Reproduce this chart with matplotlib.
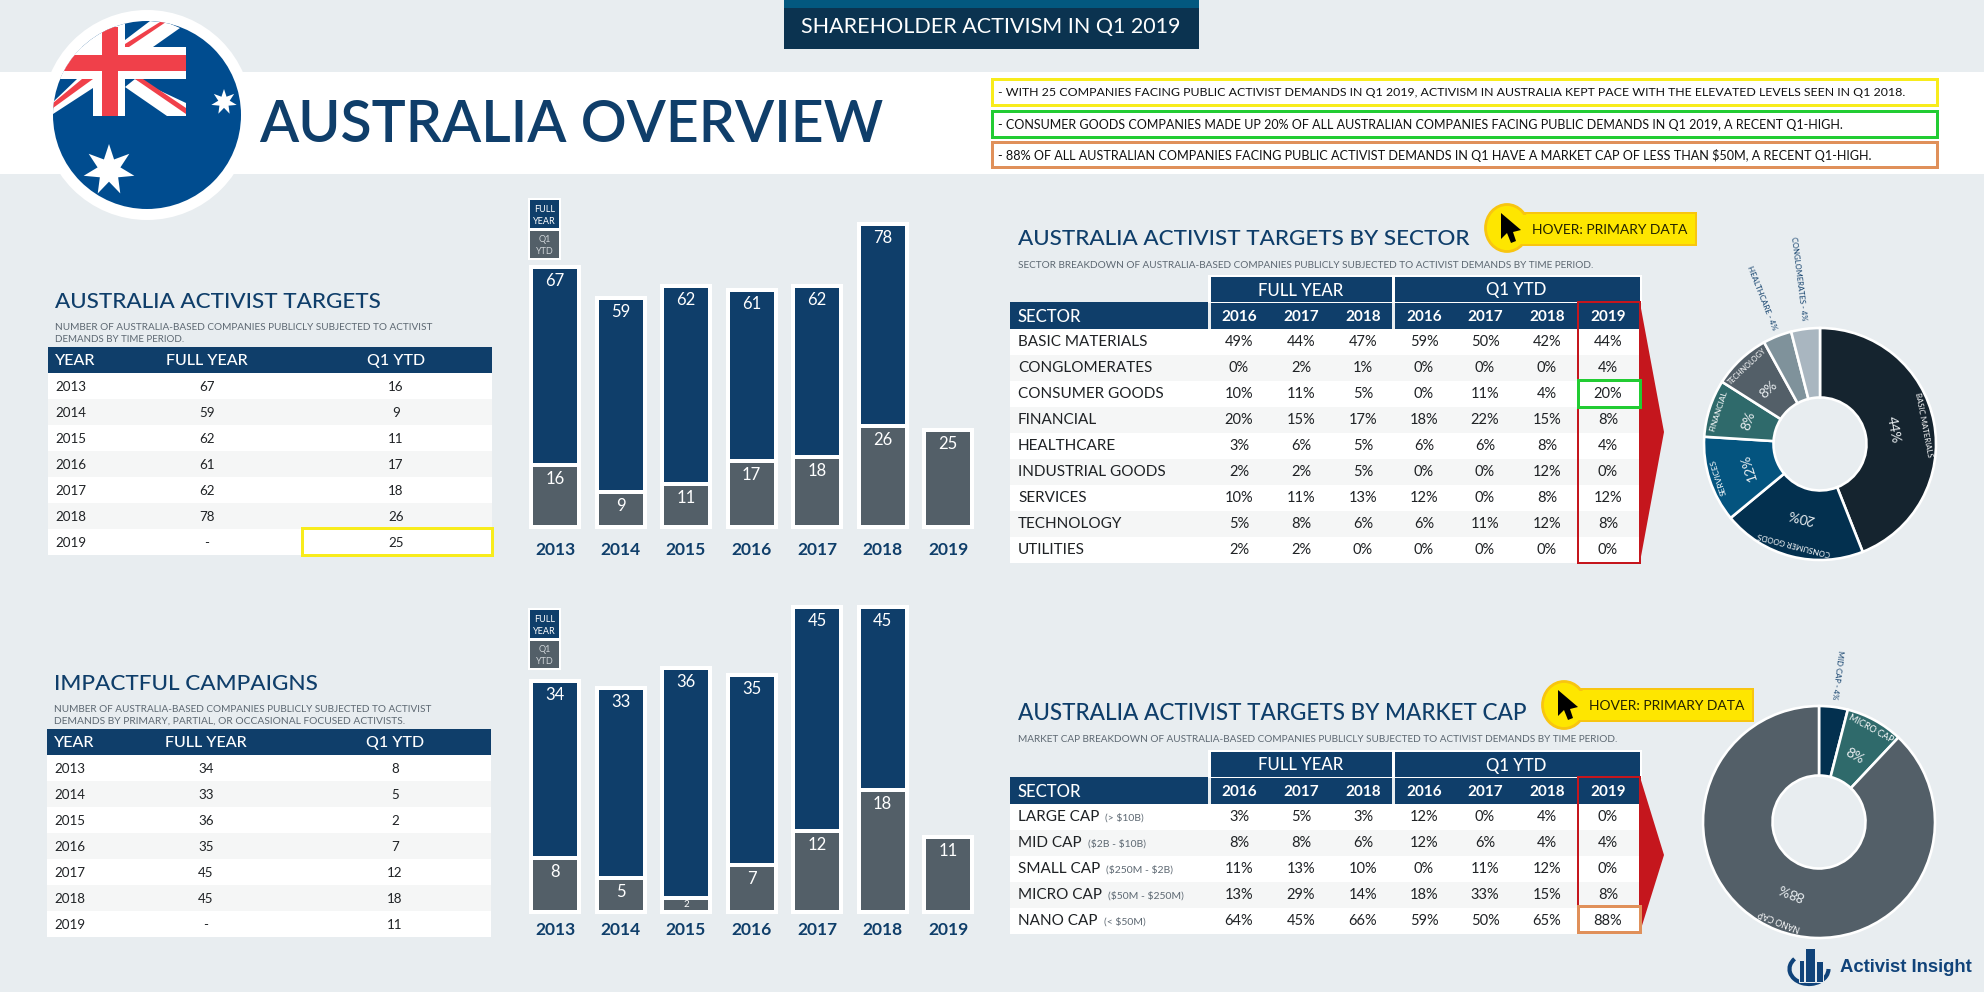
import matplotlib
matplotlib.use('Agg')
import matplotlib.pyplot as plt
import numpy as np
from matplotlib.patches import Rectangle, Ellipse, Polygon, Circle, Arc

plt.rcParams['font.family'] = ['Lato', 'DejaVu Sans']

###
### Data
###
years         = ['2013', '2014', '2015', '2016', '2017', '2018', '2019']
targets_full  = [67, 59, 62, 61, 62, 78, None]
targets_q1    = [16, 9, 11, 17, 18, 26, 25]
campaign_full = [34, 33, 36, 35, 45, 45, None]
campaign_q1   = [8, 5, 2, 7, 12, 18, 11]

table_years = ['2016', '2017', '2018', '2016', '2017', '2018', '2019']

sectors = ['BASIC MATERIALS', 'CONGLOMERATES', 'CONSUMER GOODS', 'FINANCIAL', 'HEALTHCARE',
           'INDUSTRIAL GOODS', 'SERVICES', 'TECHNOLOGY', 'UTILITIES']
sector_pct = [[49, 44, 47, 59, 50, 42, 44],
              [0, 2, 1, 0, 0, 0, 4],
              [10, 11, 5, 0, 11, 4, 20],
              [20, 15, 17, 18, 22, 15, 8],
              [3, 6, 5, 6, 6, 8, 4],
              [2, 2, 5, 0, 0, 12, 0],
              [10, 11, 13, 12, 0, 8, 12],
              [5, 8, 6, 6, 11, 12, 8],
              [2, 2, 0, 0, 0, 0, 0]]

caps = ['LARGE CAP', 'MID CAP', 'SMALL CAP', 'MICRO CAP', 'NANO CAP']
cap_ranges = ['(> $10B)', '($2B - $10B)', '($250M - $2B)', '($50M - $250M)', '(< $50M)']
cap_pct = [[3, 5, 3, 12, 0, 4, 0],
           [8, 8, 6, 12, 6, 4, 4],
           [11, 13, 10, 0, 11, 12, 0],
           [13, 29, 14, 18, 33, 15, 8],
           [64, 45, 66, 59, 50, 65, 88]]

donut1_names  = ['BASIC MATERIALS', 'CONSUMER GOODS', 'SERVICES', 'FINANCIAL', 'TECHNOLOGY', 'HEALTHCARE', 'CONGLOMERATES']
donut1_values = [44, 20, 12, 8, 8, 4, 4]
donut2_names  = ['MID CAP', 'MICRO CAP', 'NANO CAP']
donut2_values = [4, 8, 88]

notes = ['- WITH 25 COMPANIES FACING PUBLIC ACTIVIST DEMANDS IN Q1 2019, ACTIVISM IN AUSTRALIA KEPT PACE WITH THE ELEVATED LEVELS SEEN IN Q1 2018.',
         '- CONSUMER GOODS COMPANIES MADE UP 20% OF ALL AUSTRALIAN COMPANIES FACING PUBLIC DEMANDS IN Q1 2019, A RECENT Q1-HIGH.',
         '- 88% OF ALL AUSTRALIAN COMPANIES FACING PUBLIC ACTIVIST DEMANDS IN Q1 HAVE A MARKET CAP OF LESS THAN $50M, A RECENT Q1-HIGH.']

###
### Colours
###
W, H   = 1984, 992
BG     = '#e8edf0'
NAVY   = '#0f3e6a'
SLATE  = '#535f68'
STRIPE = '#f5f6f6'
INK    = '#1f2225'
SUB    = '#5d6872'
YELLOW = '#f8ec1c'
GREEN  = '#22cc33'
ORANGE = '#e0905a'
RED    = '#c5161d'
FLAGR  = '#f0404a'
FLAGB  = '#004c8f'
LOGO   = '#10437a'

fig = plt.figure(figsize=(W/100, H/100), dpi=100, facecolor=BG)
bg = fig.add_axes([0, 0, 1, 1])
bg.set_xlim(0, W)
bg.set_ylim(H, 0)
bg.axis('off')
renderer = fig.canvas.get_renderer()


def rect(x0, y0, x1, y1, fc='none', ec='none', lw=0, z=1):
    p = Rectangle((x0, y0), x1-x0, y1-y0, facecolor=fc, edgecolor=ec, linewidth=lw*0.72, zorder=z)
    bg.add_patch(p)
    return p


def put(x, y, s, size=11, color=INK, ha='left', weight='normal', w=None, rot=0, ax=None, z=5, family=None):
    if ax is None:
        y = y+1
    t = (ax or bg).text(x, y, s, fontsize=size, color=color, ha=ha, va='center', fontweight=weight,
                        rotation=rot, rotation_mode='anchor', parse_math=False, zorder=z)
    if family:
        t.set_family(family)
    if w:
        t.set_rotation(0)
        t.set_fontsize(size*w/t.get_window_extent(renderer).width)
        t.set_rotation(rot)
    return t


def px_axes(x0, y0, x1, y1):
    ax = fig.add_axes([x0/W, 1-y1/H, (x1-x0)/W, (y1-y0)/H])
    ax.patch.set_alpha(0)
    return ax


###
### Header
###
rect(0, 72, W, 174, fc='white')
rect(784, 0, 1199, 49, fc='#0b3350')
rect(784, 0, 1199, 8, fc='#03587f')
put(991, 26, 'SHAREHOLDER ACTIVISM IN Q1 2019', color='white', ha='center', w=379, size=15)
put(259, 125, 'AUSTRALIA OVERVIEW', size=40, color=NAVY, w=624, weight='semibold')

# flag
bg.add_patch(Circle((147, 115), 105, fc='white', ec='none', zorder=2))
disc = Circle((147, 115), 94, fc=FLAGB, ec='none', zorder=3)
bg.add_patch(disc)
flag = [rect(53, 21, 94, 79, fc='white', z=3)]
for pts, col in [([(93, 79), (93, 88), (53, 114), (53, 102), (77, 79)], 'white'),
                 ([(82, 79), (93, 79), (53, 108), (53, 103)], FLAGR),
                 ([(125, 87), (135, 79), (186, 103), (186, 116), (167, 116)], 'white'),
                 ([(135, 79), (143, 79), (186, 108), (186, 114)], FLAGR),
                 ([(125, 40), (150, 21), (166, 22), (180, 28), (153, 47), (125, 47)], 'white'),
                 ([(125, 44), (160, 22), (166, 22), (129, 47), (125, 47)], FLAGR)]:
    p = Polygon(pts, fc=col, ec='none', zorder=3)
    bg.add_patch(p)
    flag.append(p)
flag.append(rect(53, 47, 186, 79, fc='white', z=3))
flag.append(rect(93, 21, 125, 116, fc='white', z=3))
flag.append(rect(64, 55, 186, 71, fc=FLAGR, z=3))
flag.append(rect(102, 27, 118, 116, fc=FLAGR, z=3))
for item in flag:
    item.set_clip_path(disc)


def star(cx, cy, r):
    ang = np.arange(14)*np.pi/7
    rad = np.where(np.arange(14) % 2 == 0, r, r*0.45)
    bg.add_patch(Polygon(np.c_[cx+rad*np.sin(ang), cy-rad*np.cos(ang)], fc='white', ec='none', zorder=4))


star(109, 170, 26)
star(224, 102, 13)

# call-outs
for note, col, y0, y1, wt in zip(notes, [YELLOW, GREEN, ORANGE], [79, 111, 142], [105, 137, 167], [908, 849, 874]):
    rect(992, y0, 1937, y1, ec=col, lw=3, z=2)
    put(998, (y0+y1)/2, note, size=9, w=wt, color='#111111')


###
### Bars
###
def bars(full, q1, base, scale, ymax, legend_y, tick_pad):
    ax = px_axes(522.25, base-ymax*scale, 980.75, base)
    x = np.arange(len(years))
    fy = [np.nan if v is None else v for v in full]
    ax.bar(x, fy, width=48/65.5, color=NAVY, edgecolor='white', linewidth=4*0.72, clip_on=False, zorder=2)
    ax.bar(x, q1, width=48/65.5, color=SLATE, edgecolor='white', linewidth=4*0.72, clip_on=False, zorder=3)
    for i in x:
        if full[i] is not None:
            ax.annotate(str(full[i]), (i, full[i]), xytext=(0, -14), textcoords='offset pixels', ha='center',
                        va='center', color='white', fontsize=12, zorder=4)
        small = q1[i]*scale < 25
        ax.annotate(str(q1[i]), (i, q1[i]), xytext=(0, -6 if small else -14), textcoords='offset pixels', ha='center',
                    va='center', color='white', fontsize=7 if small else 12, zorder=4)
    ax.set_xlim(-0.5, 6.5)
    ax.set_ylim(0, ymax)
    ax.set_xticks(x)
    ax.set_xticklabels(years, fontsize=12.5, color=NAVY, fontweight='bold')
    ax.set_yticks([])
    ax.tick_params(axis='x', length=0, pad=tick_pad)
    for s in ax.spines.values():
        s.set_visible(False)
    # legend chips
    rect(529, legend_y-1, 560, legend_y+29, fc=NAVY, ec='white', lw=2, z=2)
    rect(529, legend_y+30, 560, legend_y+59, fc=SLATE, ec='white', lw=2, z=2)
    for txt, dy, col in [('FULL', 8, 'white'), ('YEAR', 20, 'white'), ('Q1', 38, '#cfd4d8'), ('YTD', 50, '#cfd4d8')]:
        put(544.5, legend_y+dy, txt, size=6.5, color=col, ha='center')


bars(targets_full, targets_q1, 527, 3.88, 80, 200, 11)
bars(campaign_full, campaign_q1, 912, 6.78, 46, 610, 7)


###
### Left tables
###
def year_table(title, sub, full, q1, x0, ty, tw, yh, sub_w):
    put(x0+7, ty, title, size=15, color=NAVY, w=tw, weight='medium')
    put(x0+7, ty+25, sub[0], size=6.5, color=SUB, w=sub_w[0])
    put(x0+7, ty+37, sub[1], size=6.5, color=SUB, w=sub_w[1])
    rect(x0, yh, x0+444, yh+26, fc=NAVY)
    put(x0+7, yh+13, 'YEAR', size=11.5, color='white', weight='medium')
    put(x0+159, yh+13, 'FULL YEAR', size=11.5, color='white', ha='center', weight='medium')
    put(x0+348, yh+13, 'Q1 YTD', size=11.5, color='white', ha='center', weight='medium')
    for i, yr in enumerate(years):
        y0 = yh+26+26*i
        rect(x0, y0, x0+444, y0+26, fc=STRIPE if i % 2 else 'white')
        put(x0+7, y0+13, yr, size=9.6)
        put(x0+159, y0+13, '-' if full[i] is None else str(full[i]), size=9.6, ha='center')
        put(x0+348, y0+13, str(q1[i]), size=9.6, ha='center')


year_table('AUSTRALIA ACTIVIST TARGETS',
           ['NUMBER OF AUSTRALIA-BASED COMPANIES PUBLICLY SUBJECTED TO ACTIVIST', 'DEMANDS BY TIME PERIOD.'],
           targets_full, targets_q1, 48, 301, 327, 347, (381, 130))
rect(302, 528, 492, 555, ec=YELLOW, lw=3, z=4)
year_table('IMPACTFUL CAMPAIGNS',
           ['NUMBER OF AUSTRALIA-BASED COMPANIES PUBLICLY SUBJECTED TO ACTIVIST',
            'DEMANDS BY PRIMARY, PARTIAL, OR OCCASIONAL FOCUSED ACTIVISTS.'],
           campaign_full, campaign_q1, 47, 683, 265, 729, (381, 350))

###
### Right tables
###
col_x = [1239, 1301, 1363, 1424, 1485, 1547, 1608]


def pct_table(names, rows, ytop):
    rect(1208, ytop-2, 1642, ytop+26, fc='white')
    rect(1211, ytop, 1392, ytop+25, fc=NAVY)
    rect(1395, ytop, 1640, ytop+25, fc=NAVY)
    put(1301, ytop+12.5, 'FULL YEAR', size=12, color='white', ha='center', weight='medium')
    put(1516, ytop+12.5, 'Q1 YTD', size=12, color='white', ha='center', weight='medium')
    hy = ytop+26
    rect(1010, ytop+25, 1208, hy+26, fc=NAVY)
    rect(1211, hy, 1392, hy+26, fc=NAVY)
    rect(1395, hy, 1640, hy+26, fc=NAVY)
    put(1018, hy+13, 'SECTOR', size=12, color='white', weight='medium')
    for cx, yr in zip(col_x, table_years):
        put(cx, hy+13, yr, size=11, color='white', ha='center', weight='bold')
    for i, (name, row) in enumerate(zip(names, rows)):
        y0 = hy+26+26*i
        rect(1010, y0, 1640, y0+26, fc=STRIPE if i % 2 else 'white')
        put(1018, y0+12, name, size=11)
        for cx, v in zip(col_x, row):
            put(cx, y0+12, '{}%'.format(v), size=10.5, ha='center')
    return hy, hy+26+26*len(rows)


def badge(cx, cy, xr, top, bot):
    rect(cx, top, xr, bot, fc='#fee600', ec='#f8c510', lw=2, z=2)
    bg.add_patch(Ellipse((cx, cy), 43, 47, fc='#fee600', ec='#f8c510', linewidth=2, zorder=2))
    rect(cx, top+1.5, cx+24, bot-1.5, fc='#fee600', z=2)
    arrow = np.array([(0, 0), (0, 26), (6, 20), (10, 30), (15, 28), (12, 19), (20, 17)])
    bg.add_patch(Polygon(arrow+[cx-6, cy-15], fc='black', ec='none', zorder=3))
    put(cx+25, (top+bot)/2, 'HOVER: PRIMARY DATA', size=9, color='#222200', w=156)


# sector table
put(1018, 238, 'AUSTRALIA ACTIVIST TARGETS BY SECTOR', size=15, color=NAVY, w=452, weight='medium')
put(1018, 265, 'SECTOR BREAKDOWN OF AUSTRALIA-BASED COMPANIES PUBLICLY SUBJECTED TO ACTIVIST DEMANDS BY TIME PERIOD.',
    size=6.5, color=SUB, w=579)
hy1, end1 = pct_table(sectors, sector_pct, 277)
bg.add_patch(Polygon([(1640, 303), (1664, 432), (1640, 562)], fc=RED, ec='none', zorder=2))
rect(1578, hy1-1, 1640, end1, ec=RED, lw=2, z=4)
rect(1578, 380, 1640, 407, fc='none', ec=GREEN, lw=3, z=4)
badge(1507, 228, 1696, 213, 245)

# market cap table
put(1018, 712, 'AUSTRALIA ACTIVIST TARGETS BY MARKET CAP', size=15, color=NAVY, w=511, weight='medium')
put(1018, 739, 'MARKET CAP BREAKDOWN OF AUSTRALIA-BASED COMPANIES PUBLICLY SUBJECTED TO ACTIVIST DEMANDS BY TIME PERIOD.',
    size=6.5, color=SUB, w=603)
hy2, end2 = pct_table(caps, cap_pct, 752)
for i, (name, rng) in enumerate(zip(caps, cap_ranges)):
    y0 = hy2+26+26*i
    bbox = [t for t in bg.texts if t.get_text() == name][0].get_window_extent(renderer)
    put(bbox.x1+6, y0+13, rng, size=7.5, color=SUB)
bg.add_patch(Polygon([(1640, 777), (1664, 855), (1640, 932)], fc=RED, ec='none', zorder=2))
rect(1578, hy2-1, 1640, 906, ec=RED, lw=2, z=4)
rect(1578, 906, 1640, 932, ec=ORANGE, lw=3, z=4)
badge(1564, 705, 1753, 689, 721)


###
### Donuts
###
name_pos = {'BASIC MATERIALS': (105, 66), 'CONSUMER GOODS': (103, 76), 'SERVICES': (107, 38), 'FINANCIAL': (107, 43),
            'TECHNOLOGY': (106, 50), 'MICRO CAP': (107, 50), 'NANO CAP': (106, 45)}


def donut(cx, cy, values, names, colours, outside):
    pad = 1.06
    ax = px_axes(cx-116*pad, cy-116*pad, cx+116*pad, cy+116*pad)
    ax.pie(values, colors=colours, startangle=90, counterclock=False, radius=1,
           wedgeprops={'width': (116-46.5)/116, 'edgecolor': 'white', 'linewidth': 2.6*0.72})
    ax.set_xlim(-pad, pad)
    ax.set_ylim(-pad, pad)
    ax.set_aspect('equal')
    mids = (np.cumsum(values)-np.array(values)/2)/sum(values)*360
    for name, v, th in zip(names, values, mids):
        sin, cos = np.sin(np.radians(th)), np.cos(np.radians(th))
        if name in outside:
            r, wt = outside[name]
            put(r/116*sin, r/116*cos, '{} - {}%'.format(name, v), size=5, color=NAVY, ha='center',
                w=wt, rot=(90-th)-180, ax=ax)
        else:
            r, wt = name_pos[name]
            put(r/116*sin, r/116*cos, name, size=5, color='white', ha='center', w=wt, rot=-th, ax=ax)
            put(75/116*sin, 75/116*cos, '{}%'.format(v), size=10, color='#e8edf0', ha='center', rot=-th, ax=ax)


donut(1820, 444, donut1_values, donut1_names,
      ['#15242f', '#03304f', '#04547f', '#2f6a6b', SLATE, '#7f929b', '#a9b6c0'],
      {'HEALTHCARE': (157, 68), 'CONGLOMERATES': (167, 85)})
donut(1819, 822, donut2_values, donut2_names, ['#03304f', '#2f6a6b', SLATE], {'MID CAP': (148, 49)})

###
### Logo
###
bg.add_patch(Arc((1809, 969), 39, 30, theta1=0, theta2=215, ec=LOGO, linewidth=3, zorder=2))
for lx, top, rx in [(1799, 960, 1804), (1804.5, 948, 1815), (1816, 961, 1823)]:
    rect(lx, top, rx, 982, fc=LOGO, ec=BG, lw=1, z=3)
put(1840, 967, 'Activist Insight', size=14, color=LOGO, w=133, weight='bold', family='Liberation Sans')

fig.savefig('out.png', dpi=100, facecolor=BG)
